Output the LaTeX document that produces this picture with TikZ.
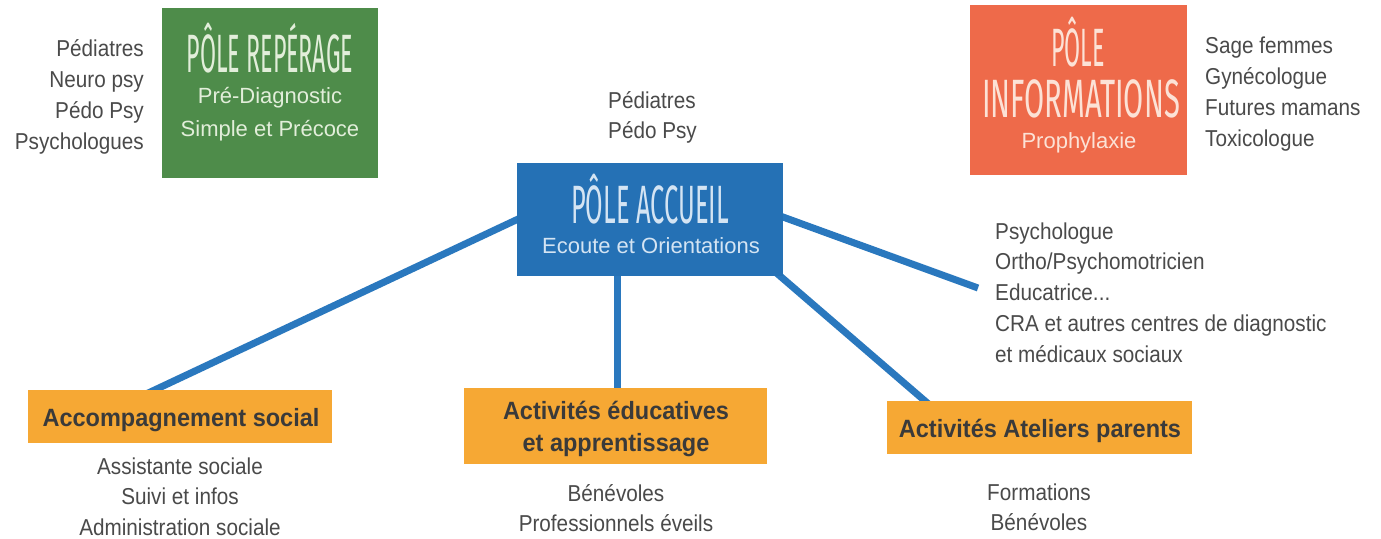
\documentclass[tikz,border=0pt]{standalone}
\usepackage{fontspec}
\setmainfont{Liberation Sans}
\newfontfamily\titlefont[FakeStretch=0.43]{Fira Sans}
\newfontfamily\titlefontB[FakeStretch=0.47]{Fira Sans}
\newfontfamily\titlefontC[FakeStretch=0.54]{Fira Sans}
\newfontfamily\bodyfont[FakeStretch=0.9]{Liberation Sans}
\newfontfamily\actfont[FakeStretch=0.94]{Liberation Sans}
\usetikzlibrary{calc}
\definecolor{greenbox}{RGB}{78,140,74}
\definecolor{redbox}{RGB}{238,106,74}
\definecolor{bluebox}{RGB}{37,113,181}
\definecolor{orangebox}{RGB}{246,168,52}
\definecolor{lineblue}{RGB}{42,120,190}
\definecolor{graytext}{RGB}{74,74,74}
\definecolor{darktext}{RGB}{58,58,58}
\definecolor{greentext}{RGB}{226,238,218}
\definecolor{redtext}{RGB}{252,226,214}
\definecolor{bluetext}{RGB}{212,228,243}
\pgfdeclarelayer{background}
\pgfsetlayers{background,main}
\tikzset{
  polebox/.style={fill=#1, draw=none, inner sep=0pt, outer sep=0pt},
  actbox/.style={fill=orangebox, draw=none, inner sep=0pt, outer sep=0pt},
  poletitle/.style={text=#1, font=\fontsize{54}{54}\selectfont, inner sep=0pt, anchor=base},
  polesub/.style={text=#1, font=\fontsize{22}{26}\selectfont, inner sep=0pt, anchor=base},
  lst/.style={text=graytext, font=\bodyfont\fontsize{23}{31}\selectfont, inner sep=0pt},
  acttext/.style={text=darktext, font=\actfont\bfseries\fontsize{25}{32}\selectfont, inner sep=0pt, anchor=base},
  link/.style={draw=lineblue, line width=7pt},
}
\begin{document}
\begin{tikzpicture}[x=1pt,y=-1pt]
\useasboundingbox (0,0) rectangle (1381,538);

% pole boxes
\node[polebox=greenbox, minimum width=216pt, minimum height=170pt] (repere) at (270,93) {};
\node[polebox=redbox, minimum width=217pt, minimum height=170pt] (info) at (1078.5,90) {};
\node[polebox=bluebox, minimum width=266pt, minimum height=113pt] (accueil) at (650,219.5) {};

% activity boxes
\node[actbox, minimum width=304pt, minimum height=53pt] (social) at (180,416.5) {};
\node[actbox, minimum width=303pt, minimum height=76pt] (edu) at (615.5,426) {};
\node[actbox, minimum width=305pt, minimum height=53pt] (atel) at (1039.5,427.5) {};

% pole texts
\node[poletitle=greentext] (repT) at (270,72) {\titlefont PÔLE REPÉRAGE};
\node[polesub=greentext] (repS1) at (270,103) {Pré-Diagnostic};
\node[polesub=greentext] (repS2) at (270,136) {Simple et Précoce};

\node[poletitle=redtext] (infT1) at (1078,66) {\titlefont PÔLE};
\node[poletitle=redtext] (infT2) at (1081,117) {\titlefontC INFORMATIONS};
\node[polesub=redtext] (infS) at (1079,148) {Prophylaxie};

\node[poletitle=bluetext] (accT) at (650,223) {\titlefontB PÔLE ACCUEIL};
\node[polesub=bluetext] (accS) at (651,253) {Ecoute et Orientations};

% activity texts
\node[acttext] (socT) at (181,426) {Accompagnement social};
\node[acttext] (eduT1) at (616,419) {Activités éducatives};
\node[acttext] (eduT2) at (616,451) {et apprentissage};
\node[acttext] (atelT) at (1040,437) {Activités Ateliers parents};

% lists
\foreach \t [count=\i] in {Pédiatres, Neuro psy, Pédo Psy, Psychologues}
  \node[lst, anchor=base east] (lp\i) at (144,{56+31*(\i-1)}) {\t};
\foreach \t [count=\i] in {Sage femmes, Gynécologue, Futures mamans, Toxicologue}
  \node[lst, anchor=base west] (rp\i) at (1205,{53+31*(\i-1)}) {\t};
\foreach \t [count=\i] in {Pédiatres, Pédo Psy}
  \node[lst, anchor=base west] (mp\i) at (608,{108+30*(\i-1)}) {\t};
\foreach \t [count=\i] in {Psychologue, Ortho/Psychomotricien, {Educatrice{...}}, CRA et autres centres de diagnostic, et médicaux sociaux}
  \node[lst, anchor=base west] (rm\i) at (995,{239+30.75*(\i-1)}) {\t};
\foreach \t [count=\i] in {Assistante sociale, Suivi et infos, Administration sociale}
  \node[lst, anchor=base] (sl\i) at (180,{474+30.5*(\i-1)}) {\t};
\foreach \t [count=\i] in {Bénévoles, Professionnels éveils}
  \node[lst, anchor=base] (el\i) at (616,{501+30*(\i-1)}) {\t};
\foreach \t [count=\i] in {Formations, Bénévoles}
  \node[lst, anchor=base] (al\i) at (1039,{500+30*(\i-1)}) {\t};

\coordinate (rEnd) at (978,288);

% background and connectors
\begin{pgfonlayer}{background}
  \fill[white] (0,0) rectangle (1381,538);
  \draw[link] ($(accueil.west)+(15,-7)$) -- ($(social.north)+(-36,5)$);
  \draw[link] ($(accueil.south)+(-33,-5)$) -- ($(edu.north)+(1.5,5)$);
  \draw[link] ($(accueil.east)+(-10,-6.1)$) -- (rEnd);
  \draw[link] ($(accueil.south east)+(-14.6,-10)$) -- ($(atel.north)+(-108.7,5)$);
\end{pgfonlayer}
\end{tikzpicture}
\end{document}
